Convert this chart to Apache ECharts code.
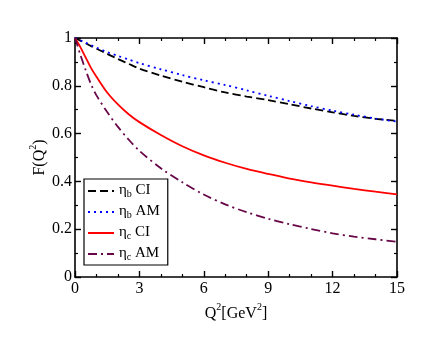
<!DOCTYPE html>
<html>
<head>
<meta charset="utf-8">
<script src="https://cdn.jsdelivr.net/npm/echarts@6/dist/echarts.min.js"></script>
<style>html,body{margin:0;padding:0;background:#fff;}#c{width:440px;height:340px;}</style>
</head>
<body>
<div id="c"></div>
<script>
var qValues = [0, 0.25, 0.5, 0.75, 1, 1.5, 2, 2.5, 3, 4, 5, 6, 7, 8, 9, 10, 11, 12, 13, 14, 15];
var etaBCI = [1, 0.989, 0.978, 0.966, 0.955, 0.934, 0.912, 0.892, 0.872, 0.843, 0.817, 0.794, 0.772, 0.755, 0.740, 0.723, 0.705, 0.689, 0.674, 0.662, 0.653];
var etaBAM = [1, 0.990, 0.980, 0.970, 0.960, 0.941, 0.925, 0.910, 0.895, 0.869, 0.845, 0.823, 0.803, 0.781, 0.758, 0.736, 0.715, 0.696, 0.679, 0.663, 0.650];
var etaCCI = [1, 0.962, 0.918, 0.874, 0.838, 0.772, 0.722, 0.681, 0.648, 0.594, 0.547, 0.509, 0.478, 0.452, 0.431, 0.412, 0.396, 0.382, 0.369, 0.357, 0.346];
var etaCAM = [1, 0.930, 0.865, 0.806, 0.760, 0.690, 0.628, 0.575, 0.528, 0.455, 0.396, 0.345, 0.304, 0.271, 0.244, 0.221, 0.201, 0.183, 0.169, 0.158, 0.147];
var seriesNames = ['ηb CI', 'ηb AM', 'ηc CI', 'ηc AM'];
var legendLabels = ['{n|η}{s|b}{n| CI}', '{n|η}{s|b}{n| AM}', '{n|η}{s|c}{n| CI}', '{n|η}{s|c}{n| AM}'];
var xTicks = ['0', '3', '6', '9', '12', '15'];
var yTicks = ['0', '0.2', '0.4', '0.6', '0.8', '1'];

function zip(xs, ys) { return xs.map(function (x, i) { return [x, ys[i]]; }); }

var FONT = 'Liberation Serif';
var chart = echarts.init(document.getElementById('c'), null, {renderer: 'canvas'});

var supStyle = {fontFamily: FONT, fontSize: 10, color: '#000', verticalAlign: 'top', lineHeight: 10, padding: [0, 0, 0, 0]};

function xAx(pos, labels) {
  return {
    type: 'value', position: pos, min: 0, max: 15, interval: 3,
    name: labels ? '{n|Q}{sup|2}{n|[GeV}{sup|2}{n|]}' : '',
    nameLocation: 'middle', nameGap: 24,
    nameTextStyle: {fontFamily: FONT, fontSize: 16, color: '#000',
      rich: {n: {fontFamily: FONT, fontSize: 16, color: '#000', lineHeight: 20, verticalAlign: 'bottom'}, sup: supStyle}},
    axisLine: {show: true, onZero: false, lineStyle: {color: '#000', width: 1.6}},
    axisTick: {show: true, inside: true, length: 6, lineStyle: {color: '#000', width: 1.4}},
    minorTick: {show: true, splitNumber: 3, length: 3, lineStyle: {color: '#000', width: 1.2}},
    splitLine: {show: false},
    axisLabel: {show: labels, margin: 4, fontFamily: FONT, fontSize: 16, color: '#000',
      formatter: function (v) { var i = Math.round(v / 3); return xTicks[i] !== undefined ? xTicks[i] : ''; }}
  };
}
function yAx(pos, labels) {
  return {
    type: 'value', position: pos, min: 0, max: 1, interval: 0.2,
    name: labels ? '{n|F(Q}{sup|2}{n|)}' : '',
    nameLocation: 'middle', nameGap: 27, nameRotate: 90, nameMoveOverlap: false,
    nameTextStyle: {fontFamily: FONT, fontSize: 16, color: '#000',
      rich: {n: {fontFamily: FONT, fontSize: 16, color: '#000', lineHeight: 20, verticalAlign: 'bottom'}, sup: supStyle}},
    axisLine: {show: true, onZero: false, lineStyle: {color: '#000', width: 1.6}},
    axisTick: {show: true, inside: true, length: 6, lineStyle: {color: '#000', width: 1.4}},
    minorTick: {show: true, splitNumber: 2, length: 3, lineStyle: {color: '#000', width: 1.2}},
    splitLine: {show: false},
    axisLabel: {show: labels, margin: 3, fontFamily: FONT, fontSize: 16, color: '#000',
      formatter: function (v) { var i = Math.round(v / 0.2); return yTicks[i] !== undefined ? yTicks[i] : ''; }}
  };
}

function line(name, data, color, type) {
  return {
    name: name, type: 'line', xAxisIndex: 0, yAxisIndex: 0,
    data: zip(qValues, data), symbol: 'none', smooth: 0.3,
    lineStyle: {color: color, width: 1.8, type: type},
    itemStyle: {color: color}, animation: false
  };
}

chart.setOption({
  backgroundColor: '#fff',
  animation: false,
  grid: {left: 75, right: 43, top: 38, bottom: 63},
  xAxis: [xAx('bottom', true), xAx('top', false)],
  yAxis: [yAx('left', true), yAx('right', false)],
  legend: {
    orient: 'vertical', left: 84, top: 179,
    itemWidth: 26, itemHeight: 14, itemGap: 5,
    padding: [4, 8, 3, 3],
    borderColor: '#000', borderWidth: 1.2, backgroundColor: '#fff',
    itemStyle: {opacity: 0, borderWidth: 0},
    data: seriesNames,
    formatter: function (n) { return legendLabels[seriesNames.indexOf(n)]; },
    textStyle: {fontFamily: FONT, fontSize: 15, color: '#000',
      rich: {n: {fontFamily: FONT, fontSize: 15, color: '#000', lineHeight: 16, verticalAlign: 'top'},
             s: {fontFamily: FONT, fontSize: 10, color: '#000', lineHeight: 16, verticalAlign: 'bottom'}}}
  },
  series: [
    line(seriesNames[0], etaBCI, '#000000', [8, 4]),
    line(seriesNames[1], etaBAM, '#0000ff', [2, 4]),
    line(seriesNames[2], etaCCI, '#ff0000', 'solid'),
    line(seriesNames[3], etaCAM, '#670748', [9, 4, 2, 4])
  ]
});
</script>
</body>
</html>
